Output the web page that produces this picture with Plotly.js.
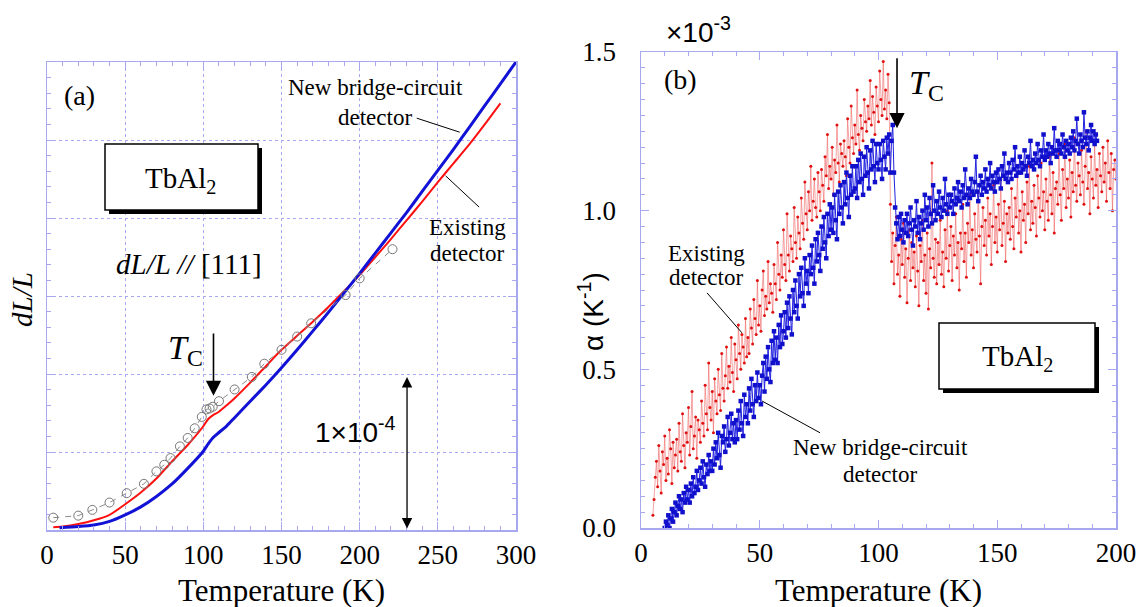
<!DOCTYPE html>
<html>
<head>
<meta charset="utf-8">
<script src="https://cdn.plot.ly/plotly-3.0.1.min.js"></script>
<style>html,body{margin:0;padding:0;background:#fff;}#chart{width:1143px;height:607px;}</style>
</head>
<body>
<div id="chart"></div>
<script>
// ---------- Panel (a): dL/L (units of 1e-4) vs Temperature (K) ----------
var aBlueT = [8, 20, 30, 40, 50, 60, 70, 80, 90, 100, 103, 106, 110, 115, 120, 130, 140, 150, 160, 170, 180, 190, 200, 210, 220, 230, 240, 250, 260, 270, 280, 290, 300];
var aBlueV = [0.015, 0.022, 0.032, 0.055, 0.097, 0.148, 0.215, 0.295, 0.395, 0.505, 0.55, 0.59, 0.625, 0.668, 0.72, 0.825, 0.93, 1.04, 1.155, 1.275, 1.395, 1.52, 1.645, 1.775, 1.905, 2.035, 2.17, 2.305, 2.44, 2.58, 2.72, 2.86, 3.0];

var aRedT = [4, 10, 20, 30, 40, 50, 60, 70, 80, 90, 100, 103, 106, 110, 115, 120, 130, 140, 150, 160, 170, 180, 190, 200, 210, 220, 230, 240, 250, 260, 270, 280, 290];
var aRedV = [0.017, 0.022, 0.038, 0.062, 0.097, 0.165, 0.24, 0.33, 0.44, 0.545, 0.665, 0.71, 0.735, 0.758, 0.80, 0.845, 0.945, 1.05, 1.155, 1.245, 1.335, 1.43, 1.53, 1.635, 1.75, 1.865, 1.985, 2.105, 2.23, 2.35, 2.47, 2.60, 2.735];

var aCircT = [4, 20, 29, 40, 51, 62, 70, 75, 79, 85, 90, 94.5, 99, 102, 104, 106, 110, 120, 131, 139, 150, 160, 169, 191, 200, 221];
var aCircV = [0.079, 0.092, 0.129, 0.176, 0.236, 0.296, 0.376, 0.418, 0.461, 0.536, 0.590, 0.652, 0.725, 0.773, 0.779, 0.79, 0.826, 0.901, 0.981, 1.066, 1.155, 1.240, 1.325, 1.506, 1.613, 1.80];

// ---------- Panel (b): alpha (units of 1e-3 K^-1), 0.5 K steps ----------
var bRedT0 = 5;     // first temperature of red series (K)
var bRedDT = 0.5;   // temperature step (K)
var bRedV = [
 0.04, 0.09, 0.16, 0.21, 0.13, 0.26, 0.18, 0.11, 0.24, 0.20, 0.29, 0.15, 0.22, 0.17, 0.31, 0.25, 0.14, 0.27, 0.19, 0.23,
 0.28, 0.18, 0.33, 0.24, 0.21, 0.36, 0.26, 0.19, 0.30, 0.27, 0.38, 0.23, 0.32, 0.43, 0.25, 0.29, 0.35, 0.22, 0.34, 0.31,
 0.27, 0.40, 0.33, 0.29, 0.45, 0.36, 0.31, 0.52, 0.38, 0.34, 0.43, 0.30, 0.47, 0.40, 0.36, 0.50, 0.42, 0.37, 0.55, 0.44,
 0.40, 0.48, 0.57, 0.44, 0.51, 0.46, 0.60, 0.49, 0.43, 0.58, 0.53, 0.47, 0.64, 0.55, 0.50, 0.61, 0.57, 0.52, 0.66, 0.54,
 0.60, 0.55, 0.69, 0.63, 0.58, 0.72, 0.66, 0.61, 0.78, 0.64, 0.70, 0.62, 0.75, 0.81, 0.67, 0.73, 0.69, 0.84, 0.71, 0.77,
 0.74, 0.68, 0.83, 0.77, 0.72, 0.90, 0.80, 0.75, 0.86, 0.79, 0.94, 0.83, 0.78, 0.99, 0.86, 0.81, 0.92, 0.88, 0.84, 1.01,
 0.90, 0.85, 0.98, 0.93, 0.88, 1.04, 0.96, 0.91, 1.09, 0.99, 0.94, 1.06, 1.00, 1.14, 0.97, 1.03, 1.10, 1.01, 0.98, 1.12,
 1.06, 1.00, 1.13, 1.08, 1.03, 1.17, 1.11, 1.24, 1.07, 1.14, 1.10, 1.20, 1.05, 1.16, 1.12, 1.27, 1.15, 1.09, 1.21, 1.18,
 1.14, 1.22, 1.17, 1.11, 1.29, 1.20, 1.15, 1.33, 1.23, 1.18, 1.27, 1.21, 1.38, 1.24, 1.19, 1.30, 1.26, 1.22, 1.35, 1.28,
 1.25, 1.33, 1.29, 1.41, 1.27, 1.36, 1.31, 1.24, 1.39, 1.33, 1.28, 1.44, 1.35, 1.30, 1.47, 1.32, 1.38, 1.29, 1.43, 1.34,
 1.02, 0.84, 0.93, 0.77, 0.89, 0.98, 0.80, 0.86, 0.73, 0.91, 0.83, 0.96, 0.79, 0.88, 0.71, 0.85, 0.94, 0.78, 0.90, 0.82,
 0.87, 0.76, 0.92, 0.81, 0.70, 0.89, 0.84, 0.97, 0.78, 0.86, 0.74, 0.93, 0.69, 0.88, 0.82, 1.15, 0.85, 0.79, 0.91, 0.77,
 0.90, 0.83, 0.97, 0.80, 0.87, 0.76, 0.94, 0.85, 1.00, 0.81, 0.89, 0.95, 0.78, 0.92, 0.86, 0.99, 0.82, 0.90, 0.75, 0.93,
 0.88, 1.02, 0.84, 0.93, 0.79, 0.96, 0.90, 1.05, 0.86, 0.94, 0.82, 0.99, 0.91, 0.87, 1.06, 0.92, 0.77, 0.95, 1.01, 0.89,
 0.97, 0.86, 1.04, 0.92, 0.99, 0.83, 0.95, 1.08, 0.90, 0.98, 0.87, 1.02, 0.94, 1.10, 0.89, 0.96, 1.03, 0.84, 0.99, 0.93,
 1.01, 0.91, 1.07, 0.95, 0.88, 1.04, 0.98, 1.12, 0.93, 1.00, 0.87, 1.06, 0.97, 1.02, 0.90, 1.09, 0.99, 1.14, 0.94, 1.03,
 0.96, 1.08, 1.01, 0.92, 1.11, 1.04, 0.98, 1.15, 1.00, 1.06, 0.94, 1.10, 1.03, 0.97, 1.17, 1.05, 0.99, 1.12, 0.93, 1.07,
 1.09, 1.02, 1.18, 1.05, 0.97, 1.13, 1.07, 1.21, 1.01, 1.10, 1.04, 1.16, 0.98, 1.12, 1.06, 1.23, 1.08, 1.03, 1.15, 1.11,
 1.05, 1.19, 1.09, 1.02, 1.14, 1.25, 1.07, 1.12, 0.99, 1.17, 1.10, 1.04, 1.21, 1.08, 1.13, 1.01, 1.18, 1.11, 1.06, 1.20,
 1.09, 1.15, 1.03, 1.22, 1.12, 1.07, 1.18, 1.00, 1.13, 1.16, 1.10
];
var bBlueT0 = 10;   // first temperature of blue series (K)
var bBlueDT = 0.5;  // temperature step (K)
var bBlueV = [
 0.00, 0.02, 0.01, 0.04, 0.00, 0.03, 0.06, 0.02, 0.05, 0.08, 0.04, 0.07, 0.10, 0.06, 0.09, 0.05, 0.11, 0.08, 0.13, 0.09,
 0.12, 0.08, 0.14, 0.10, 0.16, 0.11, 0.13, 0.18, 0.12, 0.15, 0.19, 0.14, 0.21, 0.16, 0.13, 0.20, 0.17, 0.23, 0.18, 0.21,
 0.18, 0.25, 0.20, 0.27, 0.22, 0.30, 0.23, 0.19, 0.29, 0.27, 0.32, 0.24, 0.28, 0.35, 0.26, 0.30, 0.36, 0.28, 0.33, 0.27,
 0.34, 0.28, 0.37, 0.31, 0.40, 0.33, 0.29, 0.42, 0.35, 0.39, 0.33, 0.44, 0.37, 0.47, 0.39, 0.35, 0.45, 0.40, 0.49, 0.41,
 0.45, 0.39, 0.48, 0.52, 0.43, 0.54, 0.47, 0.57, 0.50, 0.46, 0.59, 0.52, 0.62, 0.53, 0.60, 0.52, 0.64, 0.57, 0.67, 0.58,
 0.62, 0.68, 0.60, 0.71, 0.63, 0.73, 0.66, 0.61, 0.75, 0.68, 0.78, 0.70, 0.66, 0.80, 0.73, 0.82, 0.74, 0.70, 0.85, 0.77,
 0.81, 0.74, 0.86, 0.80, 0.89, 0.82, 0.77, 0.91, 0.84, 0.93, 0.86, 0.81, 0.95, 0.88, 0.98, 0.90, 0.85, 0.99, 0.92, 1.02,
 0.94, 1.01, 0.93, 1.05, 0.97, 0.91, 1.06, 0.99, 1.08, 1.01, 0.96, 1.09, 1.02, 1.12, 1.04, 0.98, 1.11, 1.05, 1.14, 1.06,
 1.07, 1.14, 1.04, 1.16, 1.09, 1.18, 1.10, 1.05, 1.17, 1.11, 1.20, 1.12, 1.07, 1.19, 1.13, 1.22, 1.14, 1.09, 1.21, 1.15,
 1.13, 1.21, 1.16, 1.10, 1.22, 1.17, 1.13, 1.23, 1.18, 1.24, 1.12, 1.22, 1.27, 1.12, 1.01, 0.96, 0.91, 0.98, 0.92, 0.99,
 0.94, 0.90, 0.97, 0.93, 0.99, 0.92, 0.96, 1.01, 0.94, 0.89, 0.97, 0.95, 1.03, 0.93, 0.98, 0.91, 0.96, 1.00, 0.94, 1.05,
 0.97, 1.01, 0.95, 1.04, 0.99, 0.96, 1.08, 1.00, 0.97, 1.03, 0.99, 1.06, 1.01, 0.98, 1.04, 1.00, 1.10, 1.02, 0.99, 1.05,
 1.01, 1.05, 1.03, 0.99, 1.07, 1.02, 1.04, 1.09, 1.03, 1.06, 1.01, 1.08, 1.04, 1.13, 1.05, 1.02, 1.07, 1.04, 1.10, 1.06,
 1.05, 1.09, 1.17, 1.06, 1.03, 1.08, 1.11, 1.05, 1.09, 1.07, 1.13, 1.06, 1.10, 1.08, 1.15, 1.07, 1.11, 1.09, 1.06, 1.12,
 1.09, 1.13, 1.10, 1.07, 1.14, 1.11, 1.18, 1.10, 1.12, 1.09, 1.15, 1.12, 1.10, 1.16, 1.13, 1.20, 1.11, 1.14, 1.12, 1.17,
 1.12, 1.15, 1.13, 1.19, 1.14, 1.11, 1.17, 1.15, 1.22, 1.14, 1.16, 1.13, 1.18, 1.15, 1.21, 1.16, 1.14, 1.19, 1.17, 1.24,
 1.16, 1.19, 1.17, 1.21, 1.18, 1.15, 1.20, 1.18, 1.26, 1.19, 1.17, 1.22, 1.19, 1.21, 1.18, 1.24, 1.20, 1.17, 1.22, 1.19,
 1.21, 1.18, 1.23, 1.20, 1.25, 1.19, 1.22, 1.29, 1.21, 1.18, 1.24, 1.22, 1.20, 1.31, 1.23, 1.21, 1.25, 1.19, 1.23, 1.27,
 1.22, 1.25, 1.21, 1.24, 1.22
];

// tick values
var aXTicks = [0, 50, 100, 150, 200, 250, 300];
var bXTicks = [0, 50, 100, 150, 200];
var bYTicks = [0, 0.5, 1.0, 1.5];
var bYTickText = ['0.0', '0.5', '1.0', '1.5'];

// ---------- styling ----------
var W = 1143, H = 607;
function px(x) { return x / W; }
function py(y) { return 1 - y / H; }
var AX = '#a8a8f0';
var GRID = '#a8a8ee';
var SERIF = 'Liberation Serif';
var SANS = 'Liberation Sans';
var BLUE = '#1212d6';
var RED = '#ff1010';

var traces = [
  {x: aRedT, y: aRedV, xaxis: 'x', yaxis: 'y', mode: 'lines', type: 'scatter',
   line: {color: RED, width: 2, shape: 'spline', smoothing: 0.6}},
  {x: aBlueT, y: aBlueV, xaxis: 'x', yaxis: 'y', mode: 'lines', type: 'scatter',
   line: {color: BLUE, width: 3, shape: 'spline', smoothing: 0.6}},
  {x: aCircT, y: aCircV, xaxis: 'x', yaxis: 'y', mode: 'lines+markers', type: 'scatter',
   line: {color: '#8a8a8a', width: 1, dash: '6px,6px'},
   marker: {symbol: 'circle-open', size: 9, color: '#777', line: {width: 1}}},
  {y: bRedV, x0: bRedT0, dx: bRedDT, xaxis: 'x2', yaxis: 'y2', mode: 'lines+markers', type: 'scatter',
   line: {color: 'rgba(238,90,90,0.7)', width: 0.8},
   marker: {symbol: 'circle', size: 3, color: '#e01010'}},
  {y: bBlueV, x0: bBlueT0, dx: bBlueDT, xaxis: 'x2', yaxis: 'y2', mode: 'lines+markers', type: 'scatter',
   line: {color: '#2222e0', width: 1},
   marker: {symbol: 'square', size: 4.5, color: '#1010cc'}}
];

function axisBase() {
  return {showline: true, linecolor: AX, linewidth: 1.5, mirror: 'ticks', ticks: 'inside',
          ticklen: 8, tickwidth: 1, tickcolor: AX, zeroline: false,
          tickfont: {family: SERIF, size: 27, color: '#000'}};
}

var xa = Object.assign(axisBase(), {domain: [px(47), px(516)], range: [0, 300], anchor: 'y',
  tickvals: aXTicks, showgrid: true, gridcolor: GRID, griddash: 'dot', gridwidth: 1,
  minor: {dtick: 10, tick0: 0, ticklen: 4, tickcolor: AX, ticks: 'inside', showgrid: false},
  ticklabelstandoff: 0});
var ya = Object.assign(axisBase(), {domain: [py(530), py(62)], range: [0, 3], anchor: 'x',
  dtick: 0.5, tick0: 0, showticklabels: false, showgrid: true, gridcolor: GRID, griddash: 'dot', gridwidth: 1,
  minor: {dtick: 0.1, tick0: 0, ticklen: 4, tickcolor: AX, ticks: 'inside', showgrid: false}});
var xb = Object.assign(axisBase(), {domain: [px(641), px(1116)], range: [0, 200], anchor: 'y2',
  tickvals: bXTicks, showgrid: false,
  minor: {dtick: 10, tick0: 0, ticklen: 4, tickcolor: AX, ticks: 'inside', showgrid: false},
  ticklabelstandoff: 0});
var yb = Object.assign(axisBase(), {domain: [py(528), py(52)], range: [0, 1.5], anchor: 'x2',
  tickvals: bYTicks, ticktext: bYTickText, showgrid: false,
  minor: {dtick: 0.05, tick0: 0, ticklen: 4, tickcolor: AX, ticks: 'inside', showgrid: false},
  ticklabelstandoff: 18});

function txt(text, x, y, size, extra) {
  return Object.assign({text: text, xref: 'paper', yref: 'paper', x: px(x), y: py(y),
    xanchor: 'center', yanchor: 'middle', showarrow: false,
    font: {family: SERIF, size: size, color: '#000'}}, extra || {});
}

var annotations = [
  // axis titles
  txt('Temperature (K)', 281, 590, 31),
  txt('Temperature (K)', 878, 590, 31),
  txt('<i>dL/L</i>', 22, 300, 29, {textangle: -90}),
  txt('α (K<sup>-1</sup>)', 591, 312, 28, {textangle: -90, font: {family: SANS, size: 28, color: '#000'}}),
  // panel (a) labels
  txt('(a)', 79, 96, 28),
  txt('New bridge-circuit', 375, 88, 23),
  txt('detector', 375, 117, 23),
  txt('Existing', 467, 227, 23),
  txt('detector', 467, 253, 23),
  txt('TbAl<sub>2</sub>', 180, 180, 29),
  txt('<i>dL/L //</i> [111]', 189, 264, 29),
  txt('<i>T</i><sub>C</sub>', 185, 350, 34),
  txt('1×10<sup>-4</sup>', 355, 430, 28, {font: {family: SANS, size: 28, color: '#000'}}),
  // panel (b) labels
  txt('(b)', 680, 80, 28),
  txt('×10<sup>-3</sup>', 699, 30, 28, {font: {family: SANS, size: 28, color: '#000'}}),
  txt('<i>T</i><sub>C</sub>', 926, 85, 34),
  txt('Existing', 706, 253, 23),
  txt('detector', 706, 278, 23),
  txt('New bridge-circuit', 880, 447, 23),
  txt('detector', 880, 474, 23),
  txt('TbAl<sub>2</sub>', 1017, 358, 29),
  // arrows
  {xref: 'x', yref: 'y', x: 106.5, y: 0.86, axref: 'x', ayref: 'y', ax: 106.5, ay: 1.27, text: '',
   showarrow: true, arrowhead: 2, arrowsize: 1.9, arrowwidth: 1.6, arrowcolor: '#000'},
  {xref: 'x', yref: 'y', x: 230.3, y: 0.01, axref: 'x', ayref: 'y', ax: 230.3, ay: 0.99, text: '',
   showarrow: true, arrowhead: 2, startarrowhead: 2, arrowside: 'end+start', arrowsize: 1.6, startarrowsize: 1.6,
   arrowwidth: 1.3, arrowcolor: '#000'},
  {xref: 'x2', yref: 'y2', x: 107.8, y: 1.26, axref: 'x2', ayref: 'y2', ax: 107.8, ay: 1.485, text: '',
   showarrow: true, arrowhead: 2, arrowsize: 1.9, arrowwidth: 1.6, arrowcolor: '#000'}
];

var shapes = [
  // leader lines panel (a)
  {type: 'line', xref: 'x', yref: 'y', x0: 236.5, y0: 2.64, x1: 264, y1: 2.55, line: {color: '#000', width: 1}},
  {type: 'line', xref: 'x', yref: 'y', x0: 255, y0: 2.27, x1: 276.4, y1: 2.07, line: {color: '#000', width: 1}},
  // leader lines panel (b)
  {type: 'line', xref: 'x2', yref: 'y2', x0: 27.8, y0: 0.741, x1: 42.5, y1: 0.615, line: {color: '#000', width: 1}},
  {type: 'line', xref: 'x2', yref: 'y2', x0: 51, y0: 0.40, x1: 75.4, y1: 0.30, line: {color: '#000', width: 1}},
  // TbAl2 box (a): shadow then box
  {type: 'rect', xref: 'paper', yref: 'paper', x0: px(109), y0: py(214), x1: px(262), y1: py(148),
   fillcolor: '#000', line: {width: 0}, layer: 'above'},
  {type: 'rect', xref: 'paper', yref: 'paper', x0: px(105), y0: py(210), x1: px(258), y1: py(144),
   fillcolor: '#fff', line: {color: '#000', width: 1.5}, layer: 'above'},
  // TbAl2 box (b)
  {type: 'rect', xref: 'paper', yref: 'paper', x0: px(943), y0: py(393), x1: px(1099), y1: py(327),
   fillcolor: '#000', line: {width: 0}, layer: 'above'},
  {type: 'rect', xref: 'paper', yref: 'paper', x0: px(939), y0: py(389), x1: px(1095), y1: py(323),
   fillcolor: '#fff', line: {color: '#000', width: 1.5}, layer: 'above'}
];

var layout = {
  width: W, height: H, margin: {l: 0, r: 0, t: 0, b: 0},
  paper_bgcolor: '#fff', plot_bgcolor: '#fff', showlegend: false,
  font: {family: SERIF, size: 26, color: '#000'},
  xaxis: xa, yaxis: ya, xaxis2: xb, yaxis2: yb,
  annotations: annotations, shapes: shapes
};

Plotly.newPlot('chart', traces, layout, {displayModeBar: false, staticPlot: true});
</script>
</body>
</html>
